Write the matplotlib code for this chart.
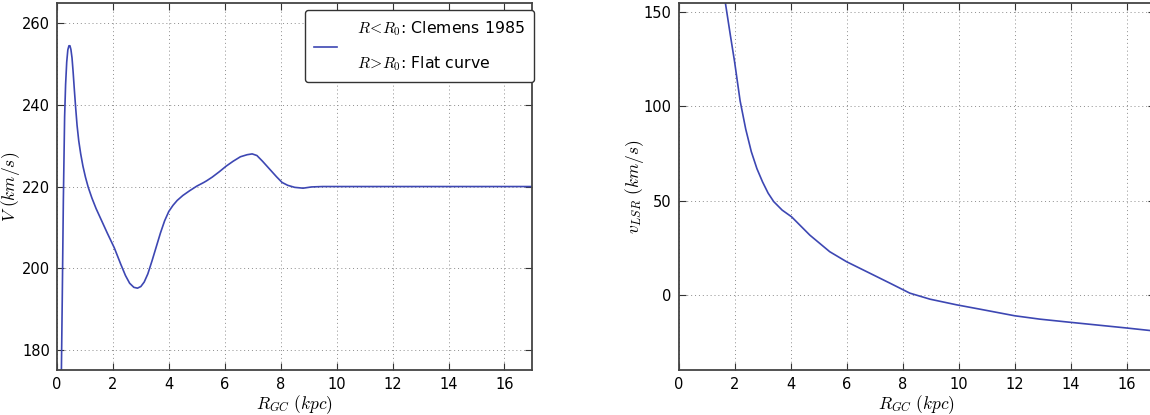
import matplotlib
matplotlib.use('Agg')
import matplotlib.pyplot as plt

plt.rcParams['mathtext.fontset'] = 'cm'
plt.rcParams['font.family'] = 'DejaVu Sans'

# кривая вращения: R < R0 по Clemens 1985, дальше плоская 220 km/s
r_rot = [0.12, 0.16, 0.19, 0.23, 0.275, 0.31, 0.35, 0.39, 0.43, 0.465, 0.50, 0.54, 0.58,
         0.62, 0.67, 0.72, 0.78, 0.85, 0.93, 1.02, 1.12, 1.25, 1.4, 1.6, 1.8, 2.05, 2.28,
         2.45, 2.6, 2.75, 2.88, 3.0, 3.12, 3.25, 3.4, 3.55, 3.7, 3.85, 4.0, 4.15, 4.3, 4.5,
         4.75, 5.0, 5.25, 5.35, 5.55, 5.8, 6.05, 6.3, 6.56, 6.8, 6.98, 7.15, 7.35, 7.6,
         7.85, 8.05, 8.25, 8.5, 8.8, 9.1, 9.5, 10.0, 12.0, 14.0, 17.0]
v_rot = [160.0, 175.0, 192.1, 216.7, 237.1, 245.0, 250.5, 253.5, 254.5, 254.5, 253.6, 251.5,
         248.0, 244.0, 239.3, 235.0, 231.2, 228.0, 225.0, 222.3, 219.8, 217.2, 214.6, 211.6,
         208.6, 205.0, 201.0, 198.2, 196.3, 195.3, 195.1, 195.5, 196.6, 198.6, 201.8, 205.2,
         208.6, 211.6, 213.9, 215.4, 216.6, 217.8, 219.0, 220.1, 221.0, 221.4, 222.3, 223.6,
         225.0, 226.2, 227.3, 227.8, 228.0, 227.6, 226.2, 224.3, 222.4, 221.0, 220.3, 219.8,
         219.6, 219.9, 220.0, 220.0, 220.0, 220.0, 220.0]

# лучевая скорость v_LSR
r_lsr = [1.55, 1.68, 1.85, 2.0, 2.2, 2.4, 2.6, 2.8, 3.0, 3.2, 3.4, 3.7, 4.04, 4.69, 5.4,
         6.0, 6.83, 7.55, 8.26, 8.98, 9.93, 10.76, 12.0, 12.9, 14.0, 15.0, 16.0, 17.0]
v_lsr = [168.0, 154.4, 138.0, 124.0, 103.0, 88.0, 76.0, 67.0, 60.0, 54.0, 49.5, 45.0,
         41.4, 31.7, 22.9, 17.6, 11.5, 6.2, 0.9, -2.3, -5.3, -7.6, -11.1, -12.9, -14.6,
         -16.1, -17.6, -19.2]

line_color = '#3d47b3'

fig = plt.figure(figsize=(11.5, 4.15), dpi=100)
ax1 = fig.add_axes([0.0495, 0.108, 0.4135, 0.885])
ax2 = fig.add_axes([0.590, 0.108, 0.414, 0.885])

ax1.plot(r_rot, v_rot, color=line_color, lw=1.2,
         label='$R\\!<\\!R_0$: Clemens 1985\n$R\\!>\\!R_0$: Flat curve')
ax1.set_xlim(0, 17)
ax1.set_ylim(175, 265)
ax1.set_yticks([180, 200, 220, 240, 260])
ax1.set_xlabel('$R_{GC}\\ (kpc)$', fontsize=12.5, labelpad=1)
ax1.set_ylabel('$V\\ (km/s)$', fontsize=12.5)
ax1.yaxis.set_label_coords(-0.073, 0.5)
leg = ax1.legend(loc='upper right', bbox_to_anchor=(1.004, 0.981), borderaxespad=0,
                 fontsize=11.3, fancybox=True, framealpha=1, edgecolor='#333333',
                 handlelength=1.45, handletextpad=1.3, borderpad=0.6)
leg.get_frame().set_linewidth(1.0)
for t in leg.get_texts():
    t.set_linespacing(2.15)

ax2.plot(r_lsr, v_lsr, color=line_color, lw=1.2)
ax2.set_xlim(0, 17)
ax2.set_ylim(-40, 155)
ax2.set_yticks([0, 50, 100, 150])
ax2.set_xlabel('$R_{GC}\\ (kpc)$', fontsize=12.5, labelpad=1)
ax2.set_ylabel('$v_{LSR}\\ (km/s)$', fontsize=12.5)
ax2.yaxis.set_label_coords(-0.069, 0.5)

for ax in (ax1, ax2):
    ax.set_xticks(range(0, 17, 2))
    ax.grid(True, linestyle=(0, (1, 3)), color='0.55', linewidth=0.7)
    ax.tick_params(direction='in', top=True, right=True, labelsize=10.5,
                   length=5, color='#333333', pad=5)
    for sp in ax.spines.values():
        sp.set_color('#444444')
        sp.set_linewidth(1.3)

fig.savefig('out.png', dpi=100)
